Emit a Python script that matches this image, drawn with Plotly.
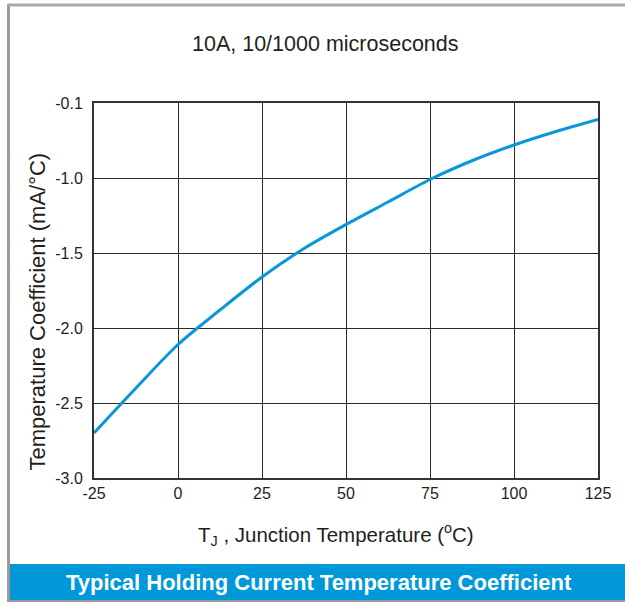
import plotly.graph_objects as go

# Data
temperature_c = [-25, -12.5, 0, 12.5, 25, 37.5, 50, 62.5, 75, 87.5, 100, 112.5, 125]
temp_coeff = [-2.70, -2.40, -2.11, -1.88, -1.66, -1.47, -1.31, -1.16, -1.01, -0.885, -0.78, -0.69, -0.61]

x_ticks = [-25, 0, 25, 50, 75, 100, 125]
y_tick_vals = [-3.0, -2.5, -2.0, -1.5, -1.0, -0.5]
y_tick_text = ["-3.0", "-2.5", "-2.0", "-1.5", "-1.0", "-0.1"]

W, H = 625, 602
L, R, T, B = 93.5, 597.7, 103, 478

def px(x):
    return (x - L) / (R - L)

def py(y):
    return (B - y) / (B - T)

FONT = "Liberation Sans, Arial, sans-serif"
BLUE = "#0a97d9"
GRID = "#2a2a2a"
TXT = "#231f20"

fig = go.Figure()
fig.add_trace(go.Scatter(
    x=temperature_c, y=temp_coeff, mode="lines",
    line=dict(color=BLUE, width=3, shape="spline", smoothing=0.8),
    hoverinfo="x+y", showlegend=False,
))

fig.update_layout(
    width=W, height=H,
    margin=dict(l=L, r=W - R, t=T, b=H - B, autoexpand=False),
    paper_bgcolor="white", plot_bgcolor="white",
    font=dict(family=FONT, color=TXT),
    xaxis=dict(
        range=[-25, 125], tickvals=x_ticks, ticktext=[str(v) for v in x_ticks],
        showgrid=True, gridcolor=GRID, gridwidth=1,
        showline=True, linecolor="#333333", linewidth=2, mirror=True,
        ticks="", tickfont=dict(size=16, color=TXT), zeroline=False,
    ),
    yaxis=dict(
        range=[-3.0, -0.5], tickvals=y_tick_vals, ticktext=y_tick_text,
        showgrid=True, gridcolor=GRID, gridwidth=1,
        showline=True, linecolor="#333333", linewidth=2, mirror=True,
        ticks="outside", ticklen=6, tickcolor="rgba(0,0,0,0)",
        tickfont=dict(size=16, color=TXT), zeroline=False,
    ),
    shapes=[
        # banner
        dict(type="rect", xref="paper", yref="paper",
             x0=px(9), x1=px(626), y0=py(600), y1=py(564),
             fillcolor="#0098d8", line=dict(width=0), layer="above"),
        # frame lines
        dict(type="line", xref="paper", yref="paper",
             x0=px(8), x1=px(8), y0=py(4), y1=py(603),
             line=dict(color="#9a9a9a", width=3)),
        dict(type="line", xref="paper", yref="paper",
             x0=px(7), x1=px(626), y0=py(5), y1=py(5),
             line=dict(color="#a8a8a8", width=3)),
        dict(type="line", xref="paper", yref="paper",
             x0=px(7), x1=px(626), y0=py(601), y1=py(601),
             line=dict(color="#9a9a9a", width=2)),
    ],
    annotations=[
        dict(text="10A, 10/1000 microseconds", xref="paper", yref="paper",
             x=px(325), y=py(44), xanchor="center", yanchor="middle", showarrow=False,
             font=dict(size=21.5, color=TXT, family=FONT)),
        dict(text="T<sub>J</sub> , Junction Temperature (<sup>o</sup>C)",
             xref="paper", yref="paper", x=px(336), y=py(534),
             xanchor="center", yanchor="middle", showarrow=False,
             font=dict(size=20.5, color=TXT, family=FONT)),
        dict(text="Temperature Coefficient (mA/°C)",
             xref="paper", yref="paper", x=px(36), y=py(312), textangle=-90,
             xanchor="center", yanchor="middle", showarrow=False,
             font=dict(size=22, color=TXT, family=FONT)),
        dict(text="<b>Typical Holding Current Temperature Coefficient</b>",
             xref="paper", yref="paper", x=px(319), y=py(582),
             xanchor="center", yanchor="middle", showarrow=False,
             font=dict(size=22, color="white", family=FONT)),
    ],
)

fig.write_html("out.html", config={"displayModeBar": False},
               post_script="document.body.style.margin='0px';")
